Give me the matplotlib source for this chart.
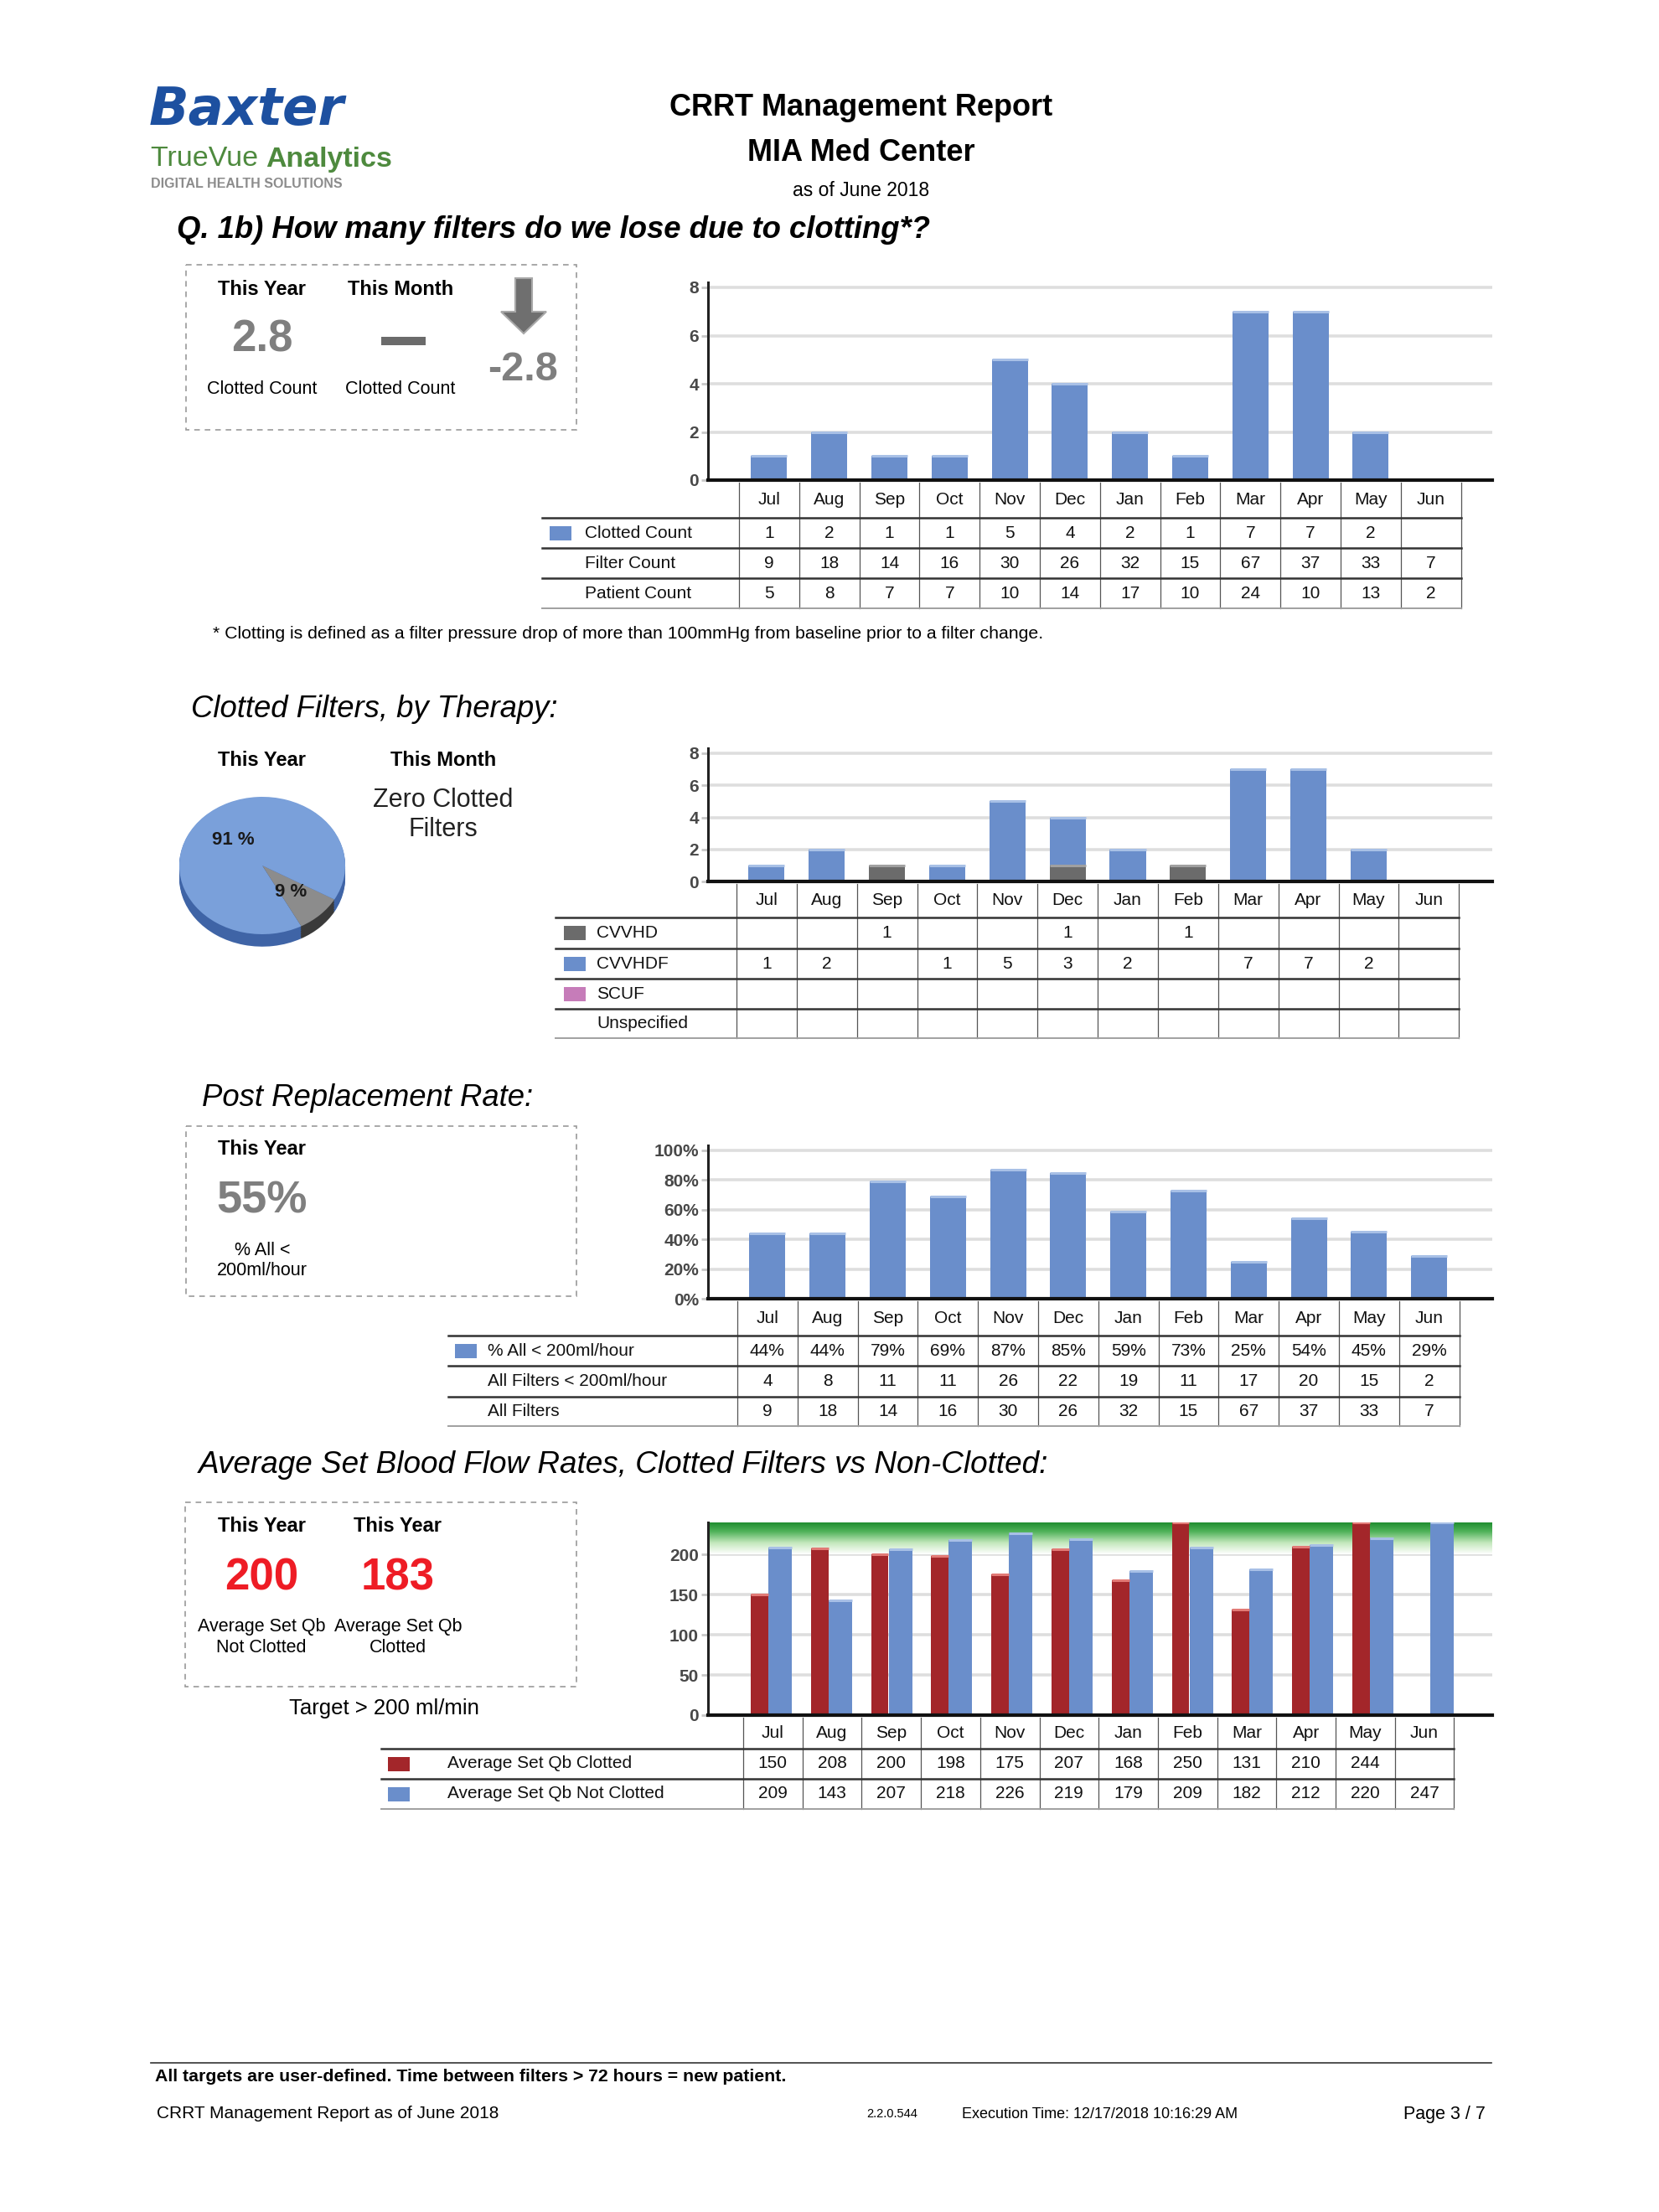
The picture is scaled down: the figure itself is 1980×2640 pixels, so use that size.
import numpy as np
import matplotlib as mpl
import matplotlib.pyplot as plt
import matplotlib.patches as mpatches
from matplotlib.colors import LinearSegmentedColormap

mpl.rcParams["font.family"] = ["Liberation Sans", "DejaVu Sans"]

# ── DATA ─────────────────────────────────────────────────────────────────────

MONTHS = ["Jul", "Aug", "Sep", "Oct", "Nov", "Dec", "Jan", "Feb", "Mar", "Apr", "May", "Jun"]

CLOTTED_COUNT = [1, 2, 1, 1, 5, 4, 2, 1, 7, 7, 2, None]
FILTER_COUNT = [9, 18, 14, 16, 30, 26, 32, 15, 67, 37, 33, 7]
PATIENT_COUNT = [5, 8, 7, 7, 10, 14, 17, 10, 24, 10, 13, 2]

CVVHD = [None, None, 1, None, None, 1, None, 1, None, None, None, None]
CVVHDF = [1, 2, None, 1, 5, 3, 2, None, 7, 7, 2, None]
SCUF = [None, None, None, None, None, None, None, None, None, None, None, None]
UNSPECIFIED = [None, None, None, None, None, None, None, None, None, None, None, None]
PIE_SHARES = [9, 91]          # CVVHD, CVVHDF (this year)
PIE_LABELS = ["9 %", "91 %"]

PCT_UNDER_200 = [44, 44, 79, 69, 87, 85, 59, 73, 25, 54, 45, 29]
FILTERS_UNDER_200 = [4, 8, 11, 11, 26, 22, 19, 11, 17, 20, 15, 2]
ALL_FILTERS = [9, 18, 14, 16, 30, 26, 32, 15, 67, 37, 33, 7]

QB_CLOTTED = [150, 208, 200, 198, 175, 207, 168, 250, 131, 210, 244, None]
QB_NOT_CLOTTED = [209, 143, 207, 218, 226, 219, 179, 209, 182, 212, 220, 247]

# ── STYLE ────────────────────────────────────────────────────────────────────

W, H = 1980, 2640
BLUE, BLUE_TOP = "#6a8ecb", "#a8c0e6"
GRAY, GRAY_TOP = "#6b6b6b", "#a0a0a0"
RED, RED_TOP = "#a3262a", "#e27a76"
PINK = "#c67cb9"
FS_T = 15
AX_L, AX_R = 845, 1781

fig = plt.figure(figsize=(W / 100, H / 100), dpi=100)
fig.patch.set_facecolor("white")

page = fig.add_axes([0, 0, 1, 1])
page.set_xlim(0, W)
page.set_ylim(H, 0)
page.set_autoscale_on(False)
page.axis("off")


def px_axes(x0, y0, x1, y1):
    return fig.add_axes([x0 / W, 1 - y1 / H, (x1 - x0) / W, (y1 - y0) / H])


def nz(vals):
    return np.array([np.nan if v is None else v for v in vals], dtype=float)


def chart_axes(y_top, y_zero, top_val, x0p, step, extra=6):
    ax = px_axes(AX_L, y_top - extra, AX_R, y_zero)
    ppu = (y_zero - y_top) / top_val
    ax.set_ylim(0, top_val + extra / ppu)
    ax.set_xlim((AX_L - x0p) / step, (AX_R - x0p) / step)
    ax.patch.set_alpha(0)
    for s in ("top", "right"):
        ax.spines[s].set_visible(False)
    ax.spines["left"].set_color("#222222")
    ax.spines["left"].set_linewidth(2.2)
    ax.spines["bottom"].set_color("#111111")
    ax.spines["bottom"].set_linewidth(3)
    ax.spines["bottom"].set_zorder(5)
    ax.set_xticks([])
    ax.yaxis.grid(True, color="#dedede", linewidth=2.6)
    ax.set_axisbelow(True)
    ax.tick_params(axis="y", length=6, width=2, color="#c8c8c8",
                   labelsize=15, labelcolor="#484848", pad=2)
    return ax


def draw_bars(ax, x, h, width, color, top, bottom=None, align="center"):
    h = nz(h)
    b0 = np.zeros(len(h)) if bottom is None else np.nan_to_num(nz(bottom))
    rects = ax.bar(x, h, width, bottom=b0, color=color, align=align,
                   linewidth=0, zorder=3)
    y1 = ax.get_ylim()[1]
    for r, v, b in zip(rects, h, b0):
        if np.isnan(v):
            continue
        yt = min(v + b, y1)
        ax.plot([r.get_x(), r.get_x() + r.get_width()], [yt, yt],
                color=top, lw=2.2, solid_capstyle="butt", zorder=4, clip_on=True)


def bold_ticks(ax):
    for lab in ax.get_yticklabels():
        lab.set_fontweight("bold")


def draw_table(left, c0, cw, head_top, lines, rows, swatch_x, label_x):
    bottom = lines[-1]
    for k in range(13):
        x = c0 + k * cw
        page.plot([x, x], [head_top, bottom], color="#555555", lw=0.9)
    head_mid = (head_top + lines[0]) / 2
    for k, m in enumerate(MONTHS):
        page.text(c0 + (k + 0.5) * cw, head_mid, m, ha="center", va="center",
                  fontsize=FS_T, color="#111111")
    for j, y in enumerate(lines):
        last = j == len(lines) - 1
        page.plot([left, c0 + 12 * cw], [y, y],
                  color="#a0a0a0" if last else "#333333", lw=1.4 if last else 1.8)
    for r, (label, vals, col, fmt) in enumerate(rows):
        ym = (lines[r] + lines[r + 1]) / 2
        if col:
            page.add_patch(mpatches.Rectangle((swatch_x, ym - 8.5), 26, 17,
                                              facecolor=col, edgecolor="none"))
        page.text(label_x, ym, label, ha="left", va="center", fontsize=FS_T,
                  color="#111111")
        for k, v in enumerate(vals):
            if v is not None:
                page.text(c0 + (k + 0.5) * cw, ym, fmt.format(v), ha="center",
                          va="center", fontsize=FS_T, color="#111111")


def dashed_box(x0, y0, x1, y1):
    page.add_patch(mpatches.Rectangle((x0, y0), x1 - x0, y1 - y0, fill=False,
                                      edgecolor="#9a9a9a", lw=1.2,
                                      linestyle=(0, (4, 3.5))))


def fig_text(x, y, s, **kw):
    # text in page pixels, drawn above every axes
    return fig.text(x / W, 1 - y / H, s, **kw)


# ── HEADER ───────────────────────────────────────────────────────────────────

page.text(178, 132, "Baxter", fontsize=45, family="DejaVu Sans", weight="bold",
          style="oblique", color="#1d50a0", ha="left", va="center")
t = page.text(180, 190, "TrueVue ", fontsize=24.5, color="#4e8a3e", ha="left", va="center")
fig.canvas.draw()
bb = t.get_window_extent()
page.text(180 + bb.width, 190, "Analytics", fontsize=24.5, weight="bold",
          color="#4e8a3e", ha="left", va="center")
page.text(180, 220, "DIGITAL HEALTH SOLUTIONS", fontsize=11.5, weight="bold",
          color="#8c8c8c", ha="left", va="center")

page.text(1028, 129, "CRRT Management Report", fontsize=26, weight="bold",
          ha="center", va="center")
page.text(1028, 182, "MIA Med Center", fontsize=26, weight="bold",
          ha="center", va="center")
page.text(1028, 228, "as of June 2018", fontsize=16.5, ha="center", va="center")

page.text(211, 274, "Q. 1b) How many filters do we lose due to clotting*?",
          fontsize=26.3, weight="bold", style="italic", ha="left", va="center")

# ── SECTION 1: clotted count ────────────────────────────────────────────────

dashed_box(222, 316, 688, 513)
page.text(313, 346, "This Year", fontsize=17, weight="bold", ha="center", va="center")
page.text(478, 346, "This Month", fontsize=17, weight="bold", ha="center", va="center")
page.text(313, 406, "2.8", fontsize=38, weight="bold", color="#7f7f7f",
          ha="center", va="center")
page.add_patch(mpatches.Rectangle((455, 402), 53, 10, facecolor="#6b6b6b",
                                  edgecolor="none"))
page.text(313, 465, "Clotted Count", fontsize=15.5, ha="center", va="center")
page.text(478, 465, "Clotted Count", fontsize=15.5, ha="center", va="center")
page.add_patch(mpatches.Polygon([(615, 332), (635, 332), (635, 372), (652, 372),
                                 (625, 398), (598, 372), (615, 372)],
                                closed=True, facecolor="#6f6f6f",
                                edgecolor="#a8a8a8", lw=1.5))
page.text(624, 442, "-2.8", fontsize=35, weight="bold", color="#7f7f7f",
          ha="center", va="center")

c0, cw = 882, 71.8
ax1 = chart_axes(343, 573, 8, c0 + cw / 2, cw)
draw_bars(ax1, np.arange(12), CLOTTED_COUNT, 0.6, BLUE, BLUE_TOP)
ax1.set_yticks([0, 2, 4, 6, 8])
bold_ticks(ax1)
draw_table(647, c0, cw, 576, [618, 654, 690, 726],
           [("Clotted Count", CLOTTED_COUNT, BLUE, "{}"),
            ("Filter Count", FILTER_COUNT, None, "{}"),
            ("Patient Count", PATIENT_COUNT, None, "{}")], 656, 698)

page.text(254, 756, "* Clotting is defined as a filter pressure drop of more than "
          "100mmHg from baseline prior to a filter change.", fontsize=15.3,
          ha="left", va="center")

# ── SECTION 2: by therapy ───────────────────────────────────────────────────

page.text(228, 846, "Clotted Filters, by Therapy:", fontsize=26.3, style="italic",
          ha="left", va="center")
page.text(313, 907, "This Year", fontsize=17, weight="bold", ha="center", va="center")
page.text(529, 907, "This Month", fontsize=17, weight="bold", ha="center", va="center")
page.text(529, 955, "Zero Clotted", fontsize=22, color="#222222", ha="center", va="center")
page.text(529, 990, "Filters", fontsize=22, color="#222222", ha="center", va="center")

# 3D-looking pie: stacked darker layers for the rim, then the top face
axp = px_axes(209, 946, 417, 1135)
axp.set_xlim(-1.05, 1.05)
axp.set_ylim(-1.244, 1.061)
axp.axis("off")
shares = np.array(PIE_SHARES, dtype=float)
angles = np.concatenate([[0], np.cumsum(shares / shares.sum() * 360)]) - 62
face_cols = ["#8c8c8c", "#7aa0da"]
rim_cols = ["#3a3a3a", "#3f64a6"]
for d in np.linspace(0.18, 0.01, 10):
    for k in range(2):
        axp.add_patch(mpatches.Wedge((0, -d), 1, angles[k], angles[k + 1],
                                     facecolor=rim_cols[k], edgecolor="none"))
for k in range(2):
    axp.add_patch(mpatches.Wedge((0, 0), 1, angles[k], angles[k + 1],
                                 facecolor=face_cols[k], edgecolor="none"))
fig_text(347, 1064, PIE_LABELS[0], fontsize=16, weight="bold", color="#1a1a1a",
         ha="center", va="center")
fig_text(278, 1002, PIE_LABELS[1], fontsize=16, weight="bold", color="#1a1a1a",
         ha="center", va="center")

c0, cw = 879, 71.85
ax2 = chart_axes(899, 1052, 8, c0 + cw / 2, cw)
draw_bars(ax2, np.arange(12), CVVHD, 0.6, GRAY, GRAY_TOP)
draw_bars(ax2, np.arange(12), CVVHDF, 0.6, BLUE, BLUE_TOP, bottom=CVVHD)
ax2.set_yticks([0, 2, 4, 6, 8])
bold_ticks(ax2)
draw_table(663, c0, cw, 1055, [1095, 1132, 1168, 1204, 1239],
           [("CVVHD", CVVHD, GRAY, "{}"),
            ("CVVHDF", CVVHDF, BLUE, "{}"),
            ("SCUF", SCUF, PINK, "{}"),
            ("Unspecified", UNSPECIFIED, None, "{}")], 673, 712)

# ── SECTION 3: post replacement rate ────────────────────────────────────────

page.text(241, 1310, "Post Replacement Rate:", fontsize=26.3, style="italic",
          ha="left", va="center")
dashed_box(222, 1344, 688, 1547)
page.text(313, 1372, "This Year", fontsize=17, weight="bold", ha="center", va="center")
page.text(313, 1433, "55%", fontsize=39, weight="bold", color="#7f7f7f",
          ha="center", va="center")
page.text(313, 1492, "% All <", fontsize=15.5, ha="center", va="center")
page.text(313, 1516, "200ml/hour", fontsize=15.5, ha="center", va="center")

c0, cw = 880, 71.8
ax3 = chart_axes(1373, 1550, 100, c0 + cw / 2, cw)
draw_bars(ax3, np.arange(12), PCT_UNDER_200, 0.6, BLUE, BLUE_TOP)
ax3.set_yticks([0, 20, 40, 60, 80, 100])
ax3.set_yticklabels(["0%", "20%", "40%", "60%", "80%", "100%"])
bold_ticks(ax3)
draw_table(535, c0, cw, 1553, [1594, 1630, 1667, 1702],
           [("% All < 200ml/hour", PCT_UNDER_200, BLUE, "{}%"),
            ("All Filters < 200ml/hour", FILTERS_UNDER_200, None, "{}"),
            ("All Filters", ALL_FILTERS, None, "{}")], 543, 582)

# ── SECTION 4: blood flow rates ─────────────────────────────────────────────

page.text(237, 1748, "Average Set Blood Flow Rates, Clotted Filters vs Non-Clotted:",
          fontsize=26.6, style="italic", ha="left", va="center")
dashed_box(221, 1793, 688, 2013)
page.text(312, 1822, "This Year", fontsize=17, weight="bold", ha="center", va="center")
page.text(475, 1822, "This Year", fontsize=17, weight="bold", ha="center", va="center")
page.text(312, 1883, "200", fontsize=38, weight="bold", color="#ee1c25",
          ha="center", va="center")
page.text(475, 1883, "183", fontsize=38, weight="bold", color="#ee1c25",
          ha="center", va="center")
page.text(312, 1942, "Average Set Qb", fontsize=15.5, ha="center", va="center")
page.text(312, 1966, "Not Clotted", fontsize=15.5, ha="center", va="center")
page.text(475, 1942, "Average Set Qb", fontsize=15.5, ha="center", va="center")
page.text(475, 1966, "Clotted", fontsize=15.5, ha="center", va="center")
page.text(458, 2039, "Target > 200 ml/min", fontsize=18.5, ha="center", va="center")

ax4 = chart_axes(1817, 2047, 240, 921, 71.8, extra=0)
xl = ax4.get_xlim()
green = LinearSegmentedColormap.from_list(
    "target", [(0, "#ffffff"), (0.35, "#c4e8bd"), (0.7, "#4fb259"), (1.0, "#1c8a2d")])
ax4.imshow(np.linspace(0, 1, 200).reshape(-1, 1), cmap=green, aspect="auto",
           extent=[xl[0], xl[1], 200, 240], origin="lower", zorder=0.6)
ax4.set_xlim(xl)
ax4.set_ylim(0, 240)
draw_bars(ax4, np.arange(12) - 0.348, QB_CLOTTED, 0.29, RED, RED_TOP, align="edge")
draw_bars(ax4, np.arange(12) - 0.056, QB_NOT_CLOTTED, 0.39, BLUE, BLUE_TOP, align="edge")
ax4.set_yticks([0, 50, 100, 150, 200])
bold_ticks(ax4)
draw_table(455, 887, 70.7, 2050, [2087, 2123, 2159],
           [("Average Set Qb Clotted", QB_CLOTTED, RED, "{}"),
            ("Average Set Qb Not Clotted", QB_NOT_CLOTTED, BLUE, "{}")], 463, 534)

# ── FOOTER ───────────────────────────────────────────────────────────────────

page.plot([180, 1780], [2462, 2462], color="#333333", lw=1.2)
page.text(185, 2479, "All targets are user-defined. Time between filters > 72 hours = new patient.",
          fontsize=15.3, weight="bold", ha="left", va="center")
page.text(187, 2523, "CRRT Management Report as of June 2018", fontsize=15,
          ha="left", va="center")
page.text(1065, 2523, "2.2.0.544", fontsize=10.5, ha="center", va="center")
page.text(1148, 2523, "Execution Time: 12/17/2018 10:16:29 AM", fontsize=13,
          ha="left", va="center")
page.text(1773, 2523, "Page 3 / 7", fontsize=15.5, ha="right", va="center")

fig.savefig("out.png", dpi=100, facecolor="white")
